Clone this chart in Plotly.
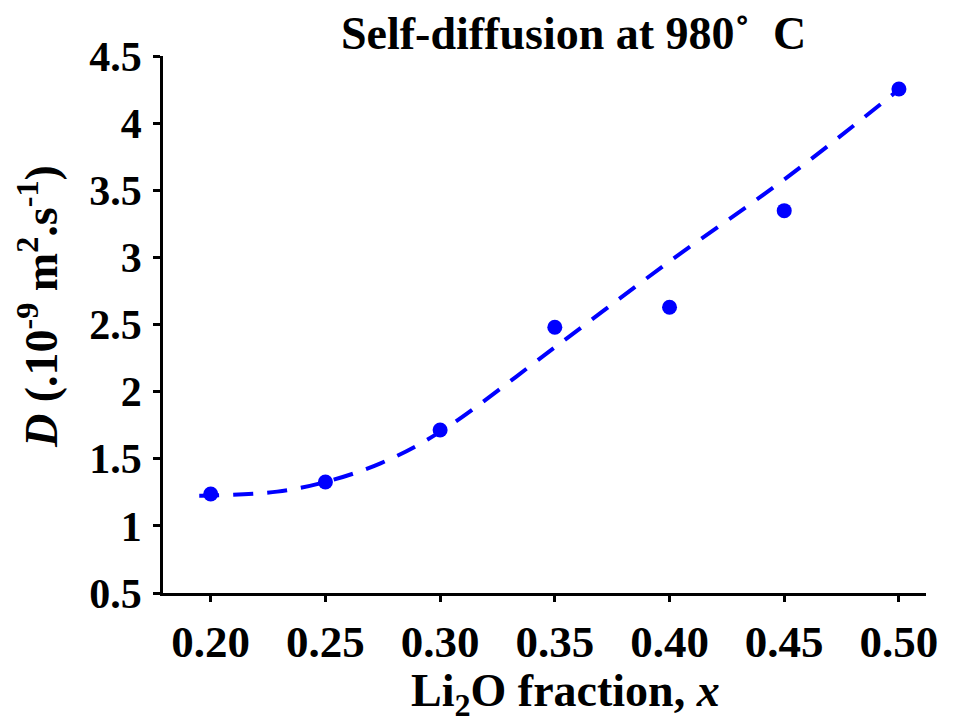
import plotly.graph_objects as go

# Data
x_vals = [0.20, 0.25, 0.30, 0.35, 0.40, 0.45, 0.50]
d_vals = [1.237, 1.327, 1.714, 2.48, 2.628, 3.348, 4.254]

# Trend curve
fit_x = [0.195, 0.20, 0.229, 0.25, 0.274, 0.30, 0.35, 0.40, 0.45, 0.50]
fit_y = [1.225, 1.226, 1.255, 1.327, 1.466, 1.70, 2.33, 2.97, 3.58, 4.25]

x_ticks = [0.20, 0.25, 0.30, 0.35, 0.40, 0.45, 0.50]
x_tick_labels = ["0.20", "0.25", "0.30", "0.35", "0.40", "0.45", "0.50"]
y_ticks = [0.5, 1, 1.5, 2, 2.5, 3, 3.5, 4, 4.5]
y_tick_labels = ["0.5", "1", "1.5", "2", "2.5", "3", "3.5", "4", "4.5"]

FONT = "Liberation Serif"
BLUE = "#0000ff"

fig = go.Figure()
fig.add_trace(go.Scatter(
    x=fit_x, y=fit_y, mode="lines",
    line=dict(color=BLUE, width=4, dash="20px,14px", shape="spline", smoothing=1.0),
    hoverinfo="skip", showlegend=False))
fig.add_trace(go.Scatter(
    x=x_vals, y=d_vals, mode="markers",
    marker=dict(color=BLUE, size=15), showlegend=False))

fig.update_layout(
    width=964, height=724,
    margin=dict(l=163, r=38, t=56, b=131),
    paper_bgcolor="white", plot_bgcolor="white",
    font=dict(family=FONT, size=44, color="black"),
    xaxis=dict(
        range=[0.1792, 0.5118], tickvals=x_ticks, ticktext=x_tick_labels,
        showgrid=False, zeroline=False, showline=True, linecolor="black", linewidth=2.5,
        ticks="outside", ticklen=6, tickwidth=2.5, tickcolor="black",
        tickfont=dict(family=FONT, size=45, color="black", weight="bold"),
        ticklabelstandoff=1,
    ),
    yaxis=dict(
        range=[0.5, 4.5], tickvals=y_ticks, ticktext=y_tick_labels,
        showgrid=False, zeroline=False, showline=True, linecolor="black", linewidth=2.5,
        ticks="outside", ticklen=7, tickwidth=2.5, tickcolor="black",
        tickfont=dict(family=FONT, size=42, color="black", weight="bold"),
        ticklabelstandoff=3,
    ),
    annotations=[
        dict(text="<b>Self-diffusion at 980˚  C</b>", x=573, y=34, xref="paper", yref="paper",
             showarrow=False, font=dict(family=FONT, size=46, color="black")),
        dict(text="<b>Li<sub>2</sub>O fraction, <i>x</i></b>", x=565, y=694, xref="paper", yref="paper",
             showarrow=False, font=dict(family=FONT, size=46, color="black")),
        dict(text="<b><i>D</i> (.10<sup>-9</sup> m<sup>2</sup>.s<sup>-1</sup>)</b>", x=38, y=306,
             xref="paper", yref="paper", textangle=-90,
             showarrow=False, font=dict(family=FONT, size=46, color="black")),
    ],
)

# convert pixel annotation positions to paper coords
pw, ph = 964 - 163 - 38, 724 - 56 - 131
for a in fig.layout.annotations:
    px, py = a.x, a.y
    a.x = (px - 163) / pw
    a.y = 1 - (py - 56) / ph
    a.xanchor = "center"
    a.yanchor = "middle"

fig.write_html("out.html")
